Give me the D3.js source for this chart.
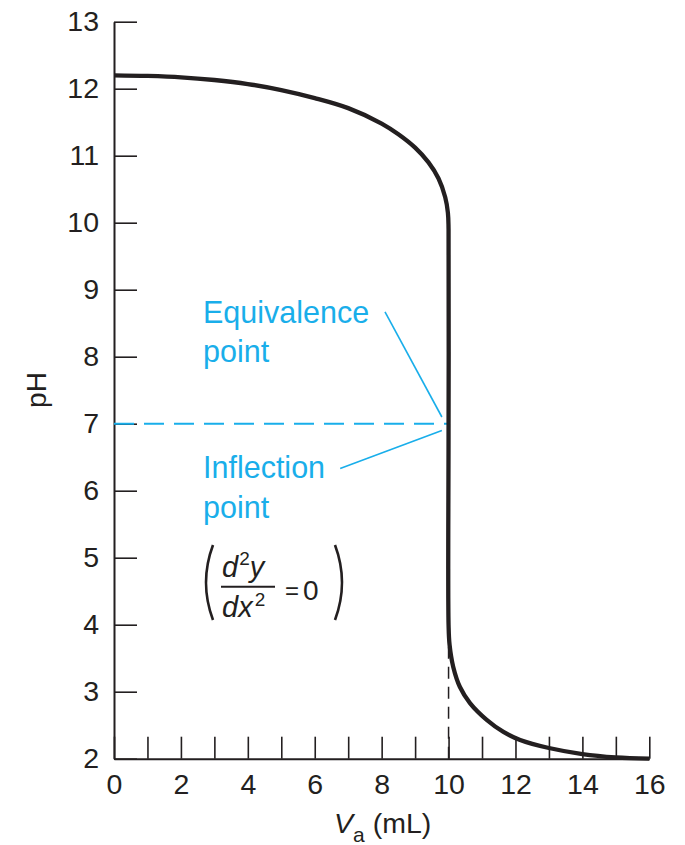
<!DOCTYPE html>
<html>
<head>
<meta charset="utf-8">
<script src="https://cdn.jsdelivr.net/npm/d3@7"></script>
<style>
  body { margin: 0; background: #fff; }
  text { font-family: "Liberation Sans", Arial, Helvetica, sans-serif; }
</style>
</head>
<body>
<svg id="titration"></svg>
<script>
// titration curve: volume of acid added (mL) vs pH
var volume = [0, 1, 2, 3, 4, 5, 6, 7, 8, 8.5, 9, 9.4, 9.7, 9.9, 9.98, 10.0, 10.0, 10.0, 10.03, 10.14, 10.34, 10.64, 11.14, 11.64, 12.14, 13, 14, 15, 16];
var pH = [12.2, 12.19, 12.17, 12.13, 12.07, 11.98, 11.86, 11.71, 11.48, 11.32, 11.12, 10.9, 10.66, 10.38, 10.15, 9.9, 7.0, 4.0, 3.7, 3.37, 3.07, 2.83, 2.58, 2.4, 2.28, 2.16, 2.07, 2.02, 2.0];

var xTicks = [0, 1, 2, 3, 4, 5, 6, 7, 8, 9, 10, 11, 12, 13, 14, 15, 16];
var xTickLabels = [0, 2, 4, 6, 8, 10, 12, 14, 16];
var yTicks = [2, 3, 4, 5, 6, 7, 8, 9, 10, 11, 12, 13];

var equivalence = { volume: 10, pH: 7 };
var equivalenceLeader = [[8.1, 8.67], [9.8, 7.1]];
var inflectionLeader = [[6.76, 6.33], [9.8, 6.9]];

var config = { width: 685, height: 845 };
var margin = { top: 21.7, right: 35.7, bottom: 86.3, left: 114 },
  width = config.width - margin.left - margin.right,
  height = config.height - margin.top - margin.bottom;

var ink = '#231f20';
var cyan = '#19aeea';

var svg = d3.select('#titration')
  .attr('width', config.width)
  .attr('height', config.height);

var g = svg.append('g')
  .attr('transform', 'translate(' + margin.left + ',' + margin.top + ')');

var x = d3.scaleLinear().domain([0, 16]).range([0, width]);
var y = d3.scaleLinear().domain([2, 13]).range([height, 0]);

// axes: ticks point into the plot
var yAxis = g.append('g')
  .call(d3.axisLeft(y)
    .tickValues(yTicks)
    .tickSizeInner(-23)
    .tickSizeOuter(0)
    .tickPadding(15)
    .tickFormat(d3.format('d')));

var xAxis = g.append('g')
  .attr('transform', 'translate(0,' + height + ')')
  .call(d3.axisBottom(x)
    .tickValues(xTicks)
    .tickSizeInner(-22)
    .tickSizeOuter(0)
    .tickPadding(15)
    .tickFormat(function(d) { return xTickLabels.indexOf(d) >= 0 ? d : ''; }));

[yAxis, xAxis].forEach(function(a) {
  a.attr('font-family', null).attr('font-size', null);
  a.select('.domain').attr('stroke', ink).attr('stroke-width', 2);
  a.selectAll('.tick line').attr('stroke', ink).attr('stroke-width', 1.6);
  a.selectAll('.tick text').attr('fill', ink).style('font-size', '28.5px');
});

// axis titles
g.append('text')
  .attr('transform', 'translate(' + (46 - margin.left) + ',' + (390 - margin.top) + ') rotate(-90)')
  .attr('text-anchor', 'middle')
  .attr('fill', ink)
  .style('font-size', '28px')
  .text('pH');

var xTitle = g.append('text')
  .attr('x', x(8) + 1)
  .attr('y', height + 74)
  .attr('text-anchor', 'middle')
  .attr('fill', ink)
  .style('font-size', '28.5px');
xTitle.append('tspan').style('font-style', 'italic').text('V');
xTitle.append('tspan').attr('dy', 9).style('font-size', '21px').text('a');
xTitle.append('tspan').attr('dy', -9).text(' (mL)');

// dashed guides at the equivalence point
g.append('line')
  .attr('x1', x(0)).attr('x2', x(equivalence.volume))
  .attr('y1', y(equivalence.pH)).attr('y2', y(equivalence.pH))
  .attr('stroke', cyan).attr('stroke-width', 2)
  .attr('stroke-dasharray', '20,10');

g.append('line')
  .attr('x1', x(equivalence.volume)).attr('x2', x(equivalence.volume))
  .attr('y1', y(2)).attr('y2', y(3.75))
  .attr('stroke', ink).attr('stroke-width', 1.5)
  .attr('stroke-dasharray', '12,8');

// the curve
var points = volume.map(function(v, i) { return [v, pH[i]]; });
var line = d3.line()
  .x(function(d) { return x(d[0]); })
  .y(function(d) { return y(d[1]); })
  .curve(d3.curveCatmullRom.alpha(0.5));

g.append('path')
  .datum(points)
  .attr('d', line)
  .attr('fill', 'none')
  .attr('stroke', ink)
  .attr('stroke-width', 4.3)
  .attr('stroke-linejoin', 'round');

// annotation leaders
[equivalenceLeader, inflectionLeader].forEach(function(l) {
  g.append('line')
    .attr('x1', x(l[0][0])).attr('y1', y(l[0][1]))
    .attr('x2', x(l[1][0])).attr('y2', y(l[1][1]))
    .attr('stroke', cyan).attr('stroke-width', 1.6);
});

// annotation text (page coordinates)
var notes = svg.append('g').attr('fill', cyan).style('font-size', '30.5px');
[['Equivalence', 322.7], ['point', 362], ['Inflection', 478.3], ['point', 518.3]].forEach(function(t) {
  notes.append('text').attr('x', 203).attr('y', t[1]).text(t[0]);
});

// (d²y/dx² = 0)
var eq = svg.append('g').attr('fill', ink);
var num = eq.append('text').attr('x', 222).attr('y', 577).style('font-size', '29px');
num.append('tspan').style('font-style', 'italic').text('d');
num.append('tspan').attr('dy', -12).attr('dx', 1).style('font-size', '19px').text('2');
num.append('tspan').attr('dy', 12).style('font-style', 'italic').text('y');

var den = eq.append('text').attr('x', 222).attr('y', 617).style('font-size', '29px');
den.append('tspan').style('font-style', 'italic').text('d');
den.append('tspan').style('font-style', 'italic').text('x');
den.append('tspan').attr('dy', -11).attr('dx', 2).style('font-size', '19px').text('2');

eq.append('line')
  .attr('x1', 221).attr('x2', 275)
  .attr('y1', 586.7).attr('y2', 586.7)
  .attr('stroke', ink).attr('stroke-width', 2);

eq.append('text').attr('x', 285).attr('y', 599).style('font-size', '24px').text('=');
eq.append('text').attr('x', 303).attr('y', 600).style('font-size', '28px').text('0');

eq.append('path')
  .attr('d', 'M213,545 Q199,582.5 213,620')
  .attr('fill', 'none').attr('stroke', ink).attr('stroke-width', 2.6);
eq.append('path')
  .attr('d', 'M335,545 Q349,582.5 335,620')
  .attr('fill', 'none').attr('stroke', ink).attr('stroke-width', 2.6);
</script>
</body>
</html>
